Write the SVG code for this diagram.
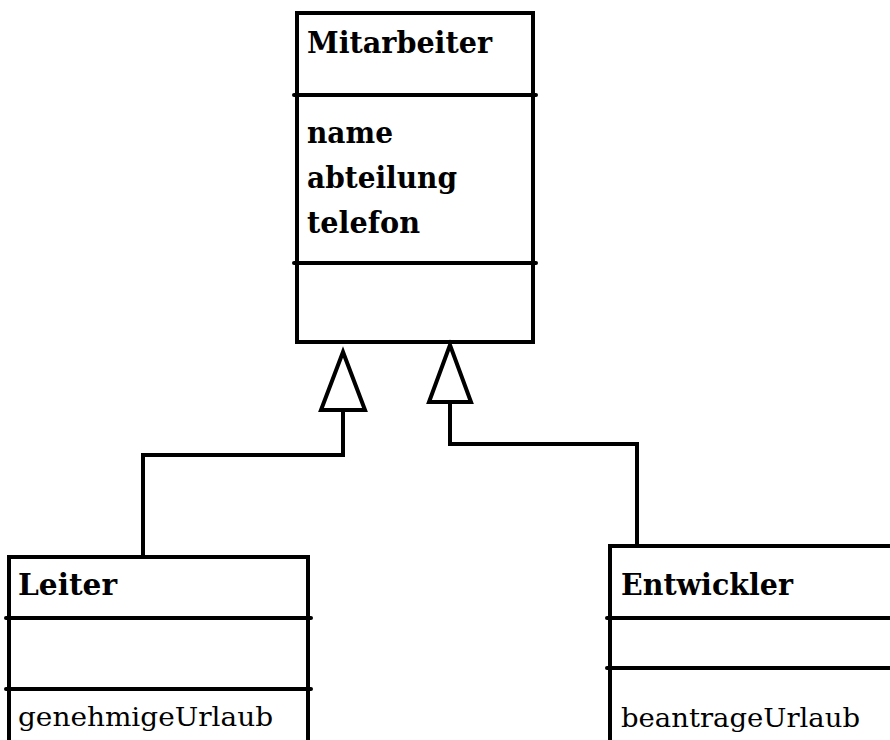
<svg xmlns="http://www.w3.org/2000/svg" width="890" height="740" viewBox="0 0 890 740">
  <style>
    .box { fill: #fff; stroke: #000; stroke-width: 4; }
    .div { stroke: #000; stroke-width: 4; stroke-linecap: round; }
    .title { font-family: "DejaVu Serif", "Liberation Serif", serif; font-weight: bold; font-size: 30px; fill: #000; }
    .attr { font-family: "DejaVu Serif", "Liberation Serif", serif; font-weight: bold; font-size: 30px; fill: #000; }
    .op { font-family: "DejaVu Serif", "Liberation Serif", serif; font-size: 26px; fill: #000; }
    .wire { fill: none; stroke: #000; stroke-width: 4; stroke-linejoin: miter; }
    .head { fill: #fff; stroke: #000; stroke-width: 4; stroke-linejoin: miter; }
  </style>

  <!-- Superclass -->
  <g id="mitarbeiter">
    <rect class="box" x="297" y="13" width="236" height="329"/>
    <line class="div" x1="294" y1="95" x2="536" y2="95"/>
    <line class="div" x1="294" y1="263" x2="536" y2="263"/>
    <text class="title" x="307" y="53" textLength="185" lengthAdjust="spacingAndGlyphs">Mitarbeiter</text>
    <text class="attr" x="307" y="143" textLength="86" lengthAdjust="spacingAndGlyphs">name</text>
    <text class="attr" x="307" y="188" textLength="150" lengthAdjust="spacingAndGlyphs">abteilung</text>
    <text class="attr" x="307" y="233" textLength="113" lengthAdjust="spacingAndGlyphs">telefon</text>
  </g>

  <!-- Subclass: Leiter -->
  <g id="leiter">
    <rect class="box" x="9" y="557" width="299" height="200"/>
    <line class="div" x1="6" y1="618" x2="311" y2="618"/>
    <line class="div" x1="6" y1="689" x2="311" y2="689"/>
    <text class="title" x="18" y="595" textLength="99" lengthAdjust="spacingAndGlyphs">Leiter</text>
    <text class="op" x="18" y="726" textLength="255" lengthAdjust="spacingAndGlyphs">genehmigeUrlaub</text>
  </g>

  <!-- Subclass: Entwickler -->
  <g id="entwickler">
    <rect class="box" x="610" y="546" width="300" height="210"/>
    <line class="div" x1="607" y1="618" x2="892" y2="618"/>
    <line class="div" x1="607" y1="668" x2="892" y2="668"/>
    <text class="title" x="621" y="595" textLength="172" lengthAdjust="spacingAndGlyphs">Entwickler</text>
    <text class="op" x="621" y="727" textLength="239" lengthAdjust="spacingAndGlyphs">beantrageUrlaub</text>
  </g>

  <!-- Generalization connectors -->
  <g id="connectors">
    <polyline class="wire" points="143,557 143,455 343,455 343,410"/>
    <polygon class="head" points="343,352 321,410 365,410"/>
    <polyline class="wire" points="637,546 637,444 450,444 450,402"/>
    <polygon class="head" points="450,345 429,402 471,402"/>
  </g>
</svg>
